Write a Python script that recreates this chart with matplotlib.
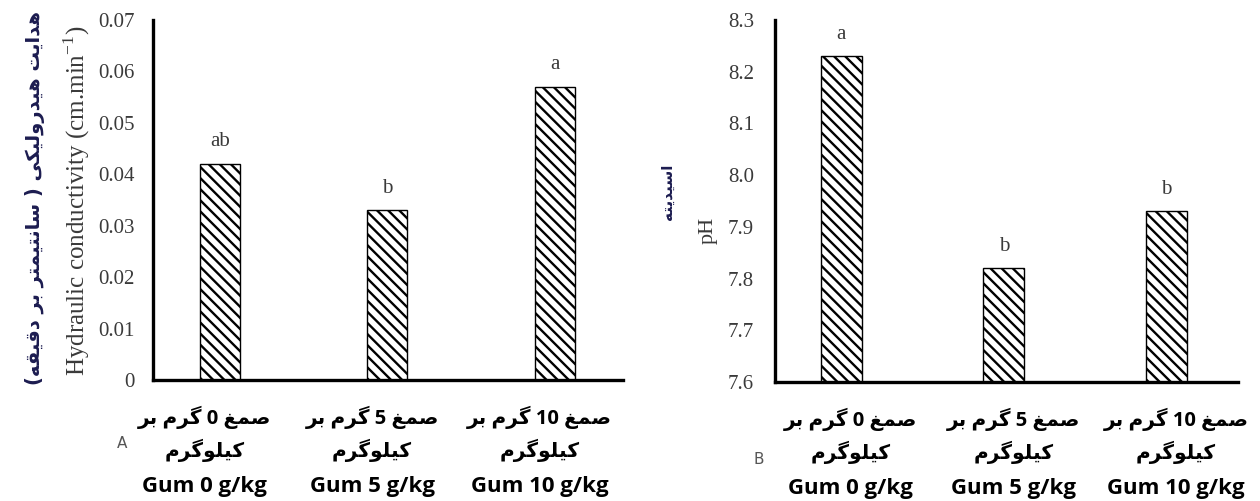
import re
import matplotlib
matplotlib.use('Agg')
import matplotlib.pyplot as plt

# treatment groups
treatments = ['0', '5', '10']
hydraulic = [0.042, 0.033, 0.057]
hydraulic_letters = ['ab', 'b', 'a']
ph_values = [8.23, 7.82, 7.93]
ph_letters = ['a', 'b', 'b']
hc_ticks = [0, 0.01, 0.02, 0.03, 0.04, 0.05, 0.06, 0.07]
hc_ticklabels = ['0', '0.01', '0.02', '0.03', '0.04', '0.05', '0.06', '0.07']
ph_ticks = [7.6, 7.7, 7.8, 7.9, 8.0, 8.1, 8.2, 8.3]
ph_ticklabels = ['7.6', '7.7', '7.8', '7.9', '8.0', '8.1', '8.2', '8.3']

# presentation forms: isolated, final, initial, medial
FORMS = {
    'ا': ('\uFE8D', '\uFE8E', None, None),
    'ب': ('\uFE8F', '\uFE90', '\uFE91', '\uFE92'),
    'ت': ('\uFE95', '\uFE96', '\uFE97', '\uFE98'),
    'د': ('\uFEA9', '\uFEAA', None, None),
    'ر': ('\uFEAD', '\uFEAE', None, None),
    'س': ('\uFEB1', '\uFEB2', '\uFEB3', '\uFEB4'),
    'ص': ('\uFEB9', '\uFEBA', '\uFEBB', '\uFEBC'),
    'غ': ('\uFECD', '\uFECE', '\uFECF', '\uFED0'),
    'ق': ('\uFED5', '\uFED6', '\uFED7', '\uFED8'),
    'ل': ('\uFEDD', '\uFEDE', '\uFEDF', '\uFEE0'),
    'م': ('\uFEE1', '\uFEE2', '\uFEE3', '\uFEE4'),
    'ن': ('\uFEE5', '\uFEE6', '\uFEE7', '\uFEE8'),
    'ه': ('\uFEE9', '\uFEEA', '\uFEEB', '\uFEEC'),
    'و': ('\uFEED', '\uFEEE', None, None),
    'ی': ('\uFBFC', '\uFBFD', '\uFBFE', '\uFBFF'),
    'ک': ('\uFB8E', '\uFB8F', '\uFB90', '\uFB91'),
    'گ': ('\uFB92', '\uFB93', '\uFB94', '\uFB95'),
}


def fa(text):
    # join letters and put the line in visual (right-to-left) order
    out = []
    for i, c in enumerate(text):
        if c not in FORMS:
            out.append(c)
            continue
        prev = text[i - 1] if i > 0 else ''
        nxt = text[i + 1] if i + 1 < len(text) else ''
        j_prev = prev in FORMS and FORMS[prev][2] is not None
        j_next = nxt in FORMS and FORMS[c][2] is not None
        iso, fin, ini, med = FORMS[c]
        if j_prev and j_next:
            out.append(med)
        elif j_prev:
            out.append(fin)
        elif j_next:
            out.append(ini)
        else:
            out.append(iso)
    vis = ''.join(out)[::-1]
    vis = re.sub(r'[0-9A-Za-z.]+', lambda m: m.group(0)[::-1], vis)
    return vis.translate(str.maketrans('()', ')('))


plt.rcParams['hatch.linewidth'] = 1.7
SERIF = 'Liberation Serif'
GREY = '#3a3a3a'
NAVY = '#1c1c50'
XFONT = ['Open Sans', 'DejaVu Sans']

fig = plt.figure(figsize=(12.6, 5.01), dpi=100)
ax1 = fig.add_axes([0.1214, 0.2415, 0.373, 0.7186])
ax2 = fig.add_axes([0.6151, 0.2375, 0.3675, 0.7226])

x = list(range(len(treatments)))


def style(ax, ticks, ticklabels, ylim, xlim, ypad, xshift):
    ax.set_ylim(*ylim)
    ax.set_xlim(*xlim)
    ax.set_yticks(ticks)
    ax.set_yticklabels(ticklabels, family=SERIF, fontsize=15, color=GREY)
    ax.set_xticks(x)
    ax.set_xticklabels([])
    ax.tick_params(axis='both', length=0)
    ax.tick_params(axis='y', pad=ypad)
    # three-line category labels: two Persian lines and the English one
    tr = ax.get_xaxis_transform()
    for i, t in zip(x, treatments):
        lines = [(fa(f'صمغ {t} گرم بر'), 14.5, -27),
                 (fa('کیلوگرم'), 14.5, -51),
                 (f'Gum {t} g/kg', 16, -77)]
        for txt, size, dy in lines:
            ax.annotate(txt, (i, 0), xycoords=tr, xytext=(xshift, dy),
                        textcoords='offset points', ha='center', va='center',
                        family=XFONT, fontweight='bold', fontsize=size,
                        color='black', annotation_clip=False)
    for side in ['top', 'right']:
        ax.spines[side].set_visible(False)
    for side in ['left', 'bottom']:
        ax.spines[side].set_linewidth(2.4)


def bars(ax, values, letters, width, base):
    heights = [v - base for v in values]
    rects = ax.bar(x, heights, width, bottom=base, color='white',
                   edgecolor='black', linewidth=1.0, hatch='\\\\\\')
    for r, lab in zip(rects, letters):
        ax.annotate(lab, (r.get_x() + r.get_width() / 2, r.get_y() + r.get_height()),
                    xytext=(0, 9), textcoords='offset points', ha='center',
                    va='bottom', family=SERIF, fontsize=15, color=GREY)


# hydraulic conductivity
bars(ax1, hydraulic, hydraulic_letters, 0.239, 0)
style(ax1, hc_ticks, hc_ticklabels, (0, 0.07), (-0.399, 2.407), 13, -11)
fig.text(0.061, 0.599, r'Hydraulic conductivity (cm.min$^{\mathregular{-1}}$)',
         rotation=90, ha='center', va='center', family=SERIF, fontsize=18,
         color=GREY)
fig.text(0.028, 0.605, fa('هدایت هیدرولیکی ( سانتیمتر بر دقیقه)'), rotation=90,
         ha='center', va='center', family='DejaVu Sans', fontweight='bold',
         fontsize=14, color=NAVY)

# pH
bars(ax2, ph_values, ph_letters, 0.252, 7.6)
style(ax2, ph_ticks, ph_ticklabels, (7.6, 8.3), (-0.407, 2.442), 15, 7)
fig.text(0.562, 0.54, 'pH', rotation=90, ha='center', va='center',
         family=SERIF, fontsize=16, color=GREY)
fig.text(0.530, 0.617, fa('اسیدیته'), rotation=90, ha='center', va='center',
         family='DejaVu Sans', fontweight='bold', fontsize=11, color=NAVY)

fig.text(0.097, 0.115, 'A', family='DejaVu Sans', fontsize=11, color='#555555',
         ha='center', va='center')
fig.text(0.602, 0.082, 'B', family='DejaVu Sans', fontsize=11, color='#555555',
         ha='center', va='center')

fig.savefig('out.png', dpi=100)
